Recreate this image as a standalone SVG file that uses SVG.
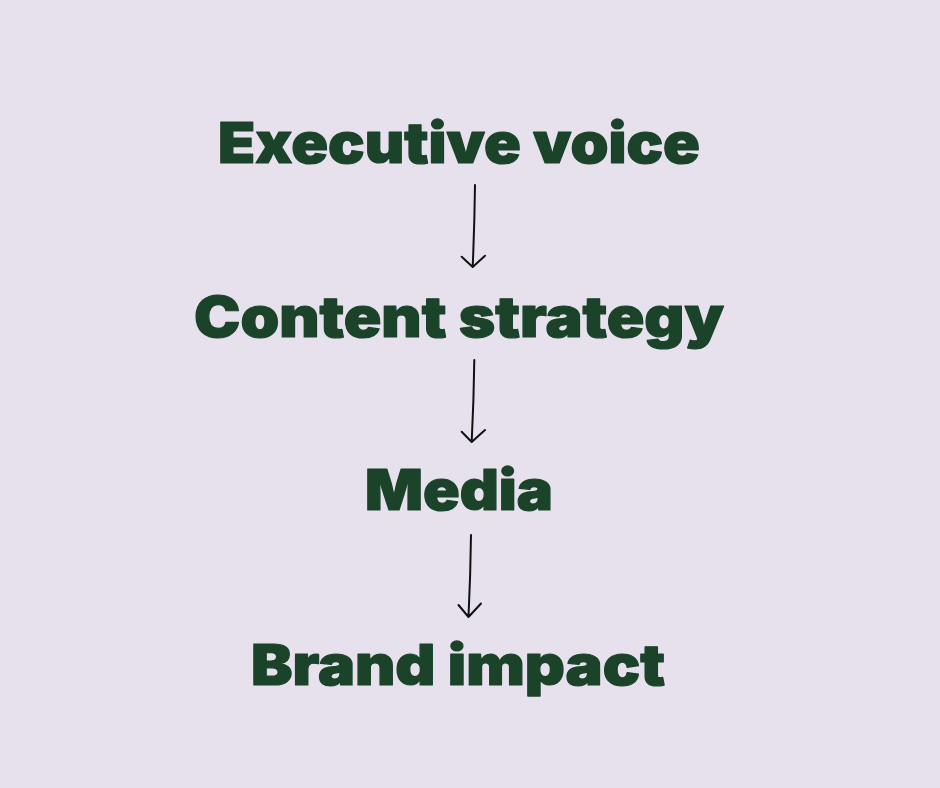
<svg xmlns="http://www.w3.org/2000/svg" width="940" height="788" viewBox="0 0 940 788">
<style>
.lbl{font-family:"Inter","Liberation Sans",sans-serif;font-weight:900;font-size:56px;fill:#1a4329;stroke:#1a4329;stroke-width:1.2;stroke-linejoin:round}
.arr{fill:none;stroke:#111;stroke-width:2;stroke-linecap:round;stroke-linejoin:round}
</style>
<rect width="940" height="788" fill="#e7e1ee"/>
<g id="node-executive-voice"><text class="lbl" x="218" y="163" textLength="482" lengthAdjust="spacingAndGlyphs">Executive voice</text></g>
<g id="node-content-strategy"><text class="lbl" x="194" y="337" textLength="530" lengthAdjust="spacingAndGlyphs">Content strategy</text></g>
<g id="node-media"><text class="lbl" x="365" y="510" textLength="188" lengthAdjust="spacingAndGlyphs">Media</text></g>
<g id="node-brand-impact"><text class="lbl" x="251" y="685" textLength="414" lengthAdjust="spacingAndGlyphs">Brand impact</text></g>
<g id="connectors">
<path class="arr" d="M475 185 Q474.5 225 472.7 266.7 M461.7 256.7 L472.7 267 L485 255.7"/>
<path class="arr" d="M474.3 360 Q473.8 400 471.7 441.7 M461.7 431.7 L471.7 442 L485 430"/>
<path class="arr" d="M471 535 Q470.5 575 468.5 616.5 M458.5 605 L468.5 617 L481 603.5"/>
</g>
</svg>
